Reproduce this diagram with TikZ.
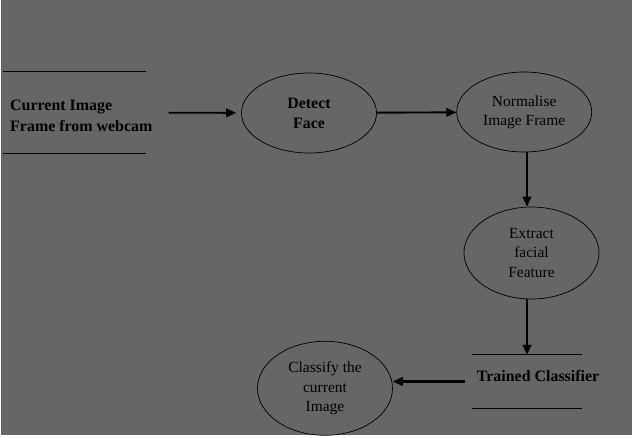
\documentclass[tikz,border=0pt]{standalone}
\usepackage{fontspec}
\setmainfont{Liberation Serif}
\usetikzlibrary{shapes.geometric,arrows.meta}
\definecolor{bggray}{HTML}{666666}

\tikzset{
  proc/.style={draw, ellipse, line width=0.6pt, inner sep=0pt,
    minimum width=4.05cm, minimum height=2.4cm, align=center,
    font=\fontsize{13.2}{16.5}\selectfont},
  store/.style={anchor=west, inner ysep=0pt, align=left,
    font=\bfseries\fontsize{13.6}{17.5}\selectfont},
  flow/.style={->, line width=1.6pt},
}

\begin{document}
\begin{tikzpicture}[x=0.03cm, y=-0.03cm, >={Triangle[length=0.3cm,width=0.26cm]}]
  \useasboundingbox (0,0) rectangle (632,437);
  \fill[white] (0,0) rectangle (632,437);
  \fill[bggray] (1,0) rectangle (632,435);

  \node[store, inner xsep=0.21cm, text height=1.77cm, text depth=0.66cm] (S1) at (3,112.5) {Current Image\\Frame from webcam};
  \node[proc, font=\bfseries\fontsize{13.6}{17}\selectfont] (P1) at (309,113) {Detect\\Face};
  \node[proc] (P2) at (524.2,112) {Normalise\\Image Frame};
  \node[proc, minimum height=2.76cm] (P3) at (531.5,253) {Extract\\facial\\Feature};
  \node[store, inner xsep=0.15cm, text height=0.78cm, text depth=0.81cm] (S2) at (471.7,381.5) {Trained Classifier};
  \node[proc, minimum height=2.82cm] (P4) at (325,388.3) {Classify the\\current\\Image};
  \coordinate (V) at (527,0);

  % data store lines
  \draw[line width=0.8pt] (S1.north west) -- +(143,0);
  \draw[line width=0.8pt] (S1.south west) -- +(143,0);
  \draw[line width=0.8pt] (S2.north west) -- +(110,0);
  \draw[line width=0.8pt] (S2.south west) -- +(110,0);

  \path[flow] (S1) edge[shorten <=0.27cm, shorten >=0.15cm] (P1);
  \path[flow] (P1) edge (P2);
  \path[flow] (P2.south -| V) edge (P3.north -| V);
  \path[flow] (P3.south -| V) edge (S2.north west -| V);
  \path[flow, line width=2.4pt] (S2.west) edge[shorten <=0.2cm] (S2.west -| P4.east);
\end{tikzpicture}
\end{document}
